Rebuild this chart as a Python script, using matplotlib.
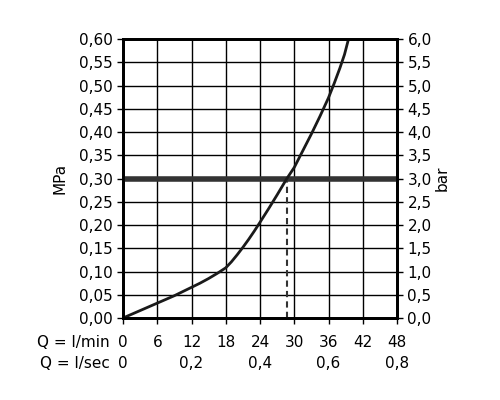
import numpy as np
import matplotlib
matplotlib.use("Agg")
import matplotlib.pyplot as plt
import matplotlib.ticker as ticker

# --- data ---
flow_lmin = [0, 1.5, 3, 4.5, 6, 7.5, 9, 10.5, 12, 13.5, 15, 16.5, 18, 19, 20, 21,
             22, 23, 24, 25.5, 27, 28.7, 30, 31.5, 33, 34.5, 36, 37, 38, 38.8, 39.5]
pressure_mpa = [0.0, 0.008, 0.016, 0.024, 0.032, 0.040, 0.048, 0.057, 0.066, 0.075,
                0.085, 0.096, 0.108, 0.121, 0.136, 0.152, 0.169, 0.187, 0.206, 0.235,
                0.265, 0.300, 0.324, 0.360, 0.396, 0.434, 0.474, 0.505, 0.538, 0.567,
                0.600]
rated_pressure = 0.30
rated_flow = 28.7

x_ticks = [0, 6, 12, 18, 24, 30, 36, 42, 48]
sec_ticks = [0, 12, 24, 36, 48]
sec_labels = ["0", "0,2", "0,4", "0,6", "0,8"]

plt.rcParams["font.family"] = ["DejaVu Sans"]
plt.rcParams["font.size"] = 11

fig = plt.figure(figsize=(5, 4), dpi=100)
ax = fig.add_axes([0.246, 0.205, 0.548, 0.697])

ax.plot(flow_lmin, pressure_mpa, color="#1a1a1a", lw=2, zorder=4,
        solid_joinstyle="round")
ax.axhline(rated_pressure, color="#333333", lw=4, zorder=3)
ax.plot([rated_flow, rated_flow], [0, rated_pressure], color="#333333",
        lw=1.5, ls=(0, (3, 2)), zorder=3)

ax.set_xlim(0, 48)
ax.set_ylim(0, 0.6)
ax.set_xticks(x_ticks)
ax.set_xticklabels([])
ax.yaxis.set_major_locator(ticker.MultipleLocator(0.05))
ax.yaxis.set_major_formatter(ticker.FuncFormatter(lambda v, p: f"{v:.2f}".replace(".", ",")))
ax.grid(True, color="black", lw=1)
ax.set_axisbelow(True)
for s in ax.spines.values():
    s.set_linewidth(2)
ax.tick_params(direction="out", length=4, width=1, colors="black")
ax.set_ylabel("MPa", labelpad=8)

ax2 = ax.twinx()
ax2.set_ylim(0, 6)
ax2.yaxis.set_major_locator(ticker.MultipleLocator(0.5))
ax2.yaxis.set_major_formatter(ticker.FuncFormatter(lambda v, p: f"{v:.1f}".replace(".", ",")))
ax2.tick_params(direction="out", length=4, width=1)
ax2.set_ylabel("bar", labelpad=2)
for s in ax2.spines.values():
    s.set_linewidth(2)

# bottom tick rows
trans = ax.get_xaxis_transform()
for t in x_ticks:
    ax.text(t, -0.088, str(t), transform=trans, ha="center", va="center")
for t, lab in zip(sec_ticks, sec_labels):
    ax.text(t, -0.163, lab, transform=trans, ha="center", va="center")
ax.text(-2.3, -0.088, "Q = l/min", transform=trans, ha="right", va="center")
ax.text(-2.3, -0.163, "Q = l/sec", transform=trans, ha="right", va="center")

fig.savefig("out.png", dpi=100)
